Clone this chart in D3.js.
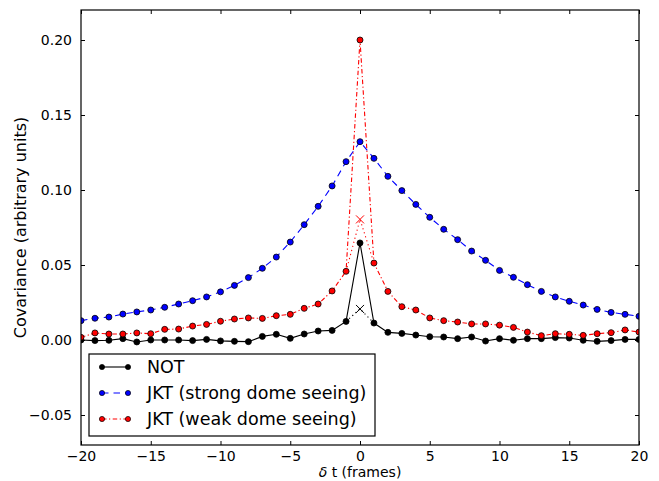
<!DOCTYPE html>
<html>
<head>
<meta charset="utf-8">
<script src="https://cdn.jsdelivr.net/npm/d3@7"></script>
<style>
  html, body { margin: 0; padding: 0; background: #fff; }
  svg { display: block; font-family: "DejaVu Sans", sans-serif; }
</style>
</head>
<body>
<svg id="chart" width="659" height="481"></svg>
<script>
// Lag in frames
const frames = [-20, -19, -18, -17, -16, -15, -14, -13, -12, -11, -10, -9, -8, -7, -6, -5, -4, -3, -2, -1,
  0, 1, 2, 3, 4, 5, 6, 7, 8, 9, 10, 11, 12, 13, 14, 15, 16, 17, 18, 19, 20];

// Covariance per lag
const notCov = [0.0000, -0.0004, -0.0002, 0.0009, -0.0013, 0.0000, 0.0000, 0.0000, -0.0004, 0.0004,
  -0.0006, -0.0009, -0.0011, 0.0024, 0.0038, 0.0011, 0.0040, 0.0060, 0.0064, 0.0124,
  0.0647,
  0.0113, 0.0051, 0.0044, 0.0033, 0.0022, 0.0020, 0.0009, 0.0020, -0.0007, 0.0009,
  -0.0002, 0.0009, 0.0009, 0.0016, 0.0013, -0.0002, -0.0009, -0.0004, 0.0004, 0.0004];

const jktStrong = [0.0129, 0.0145, 0.0153, 0.0173, 0.0187, 0.0200, 0.0218, 0.0240, 0.0262, 0.0287,
  0.0321, 0.0364, 0.0416, 0.0478, 0.0553, 0.0653, 0.0769, 0.0891, 0.1027, 0.1189,
  0.1322,
  0.1211, 0.1091, 0.0996, 0.0904, 0.0818, 0.0738, 0.0669, 0.0593, 0.0531, 0.0464,
  0.0418, 0.0369, 0.0324, 0.0287, 0.0258, 0.0233, 0.0204, 0.0184, 0.0171, 0.0158];

const jktWeak = [0.0018, 0.0047, 0.0040, 0.0040, 0.0047, 0.0042, 0.0071, 0.0073, 0.0093, 0.0104,
  0.0125, 0.0140, 0.0147, 0.0144, 0.0162, 0.0171, 0.0211, 0.0240, 0.0327, 0.0458,
  0.2000,
  0.0513, 0.0324, 0.0222, 0.0200, 0.0147, 0.0129, 0.0120, 0.0107, 0.0107, 0.0099,
  0.0084, 0.0053, 0.0029, 0.0042, 0.0038, 0.0031, 0.0042, 0.0049, 0.0067, 0.0053];

// Zero-lag values with the noise spike removed
const notZeroCorrected = 0.0207;
const weakZeroCorrected = 0.0804;

const xTicks = [-20, -15, -10, -5, 0, 5, 10, 15, 20];
const yTicks = [-0.05, 0.00, 0.05, 0.10, 0.15, 0.20];

const seriesNames = ["NOT", "JKT (strong dome seeing)", "JKT (weak dome seeing)"];

const svg = d3.select("#chart");
const plotLeft = 81, plotRight = 639, plotTop = 10, plotBottom = 445;

const x = d3.scaleLinear().domain([-20, 20]).range([plotLeft, plotRight]);
const y = d3.scaleLinear().domain([-0.07, 0.22]).range([plotBottom, plotTop]);

svg.append("defs").append("clipPath").attr("id", "plotclip")
  .append("rect").attr("x", plotLeft).attr("y", plotTop)
  .attr("width", plotRight - plotLeft).attr("height", plotBottom - plotTop);

const plot = svg.append("g").attr("clip-path", "url(#plotclip)");

const line = d3.line().x(d => x(d[0])).y(d => y(d[1]));

const styles = [
  { values: notCov, stroke: "#000000", fill: "#000000", dash: null, corrected: notZeroCorrected },
  { values: jktStrong, stroke: "#0000ff", fill: "#0000ff", dash: "6.5,5", corrected: null },
  { values: jktWeak, stroke: "#ff0000", fill: "#ff0000", dash: "4.5,2.5,1.2,2.5", corrected: weakZeroCorrected }
];

styles.forEach(s => {
  const pts = frames.map((f, i) => [f, s.values[i]]);
  const g = plot.append("g");
  g.append("path").datum(pts)
    .attr("d", line)
    .attr("fill", "none")
    .attr("stroke", s.stroke)
    .attr("stroke-width", 1.1)
    .attr("stroke-dasharray", s.dash);
  if (s.corrected !== null) {
    const i0 = frames.indexOf(0);
    const alt = [[-1, s.values[i0 - 1]], [0, s.corrected], [1, s.values[i0 + 1]]];
    g.append("path").datum(alt)
      .attr("d", line)
      .attr("fill", "none")
      .attr("stroke", s.stroke)
      .attr("stroke-width", 1.1)
      .attr("stroke-dasharray", "1.2,3");
    const cx = x(0), cy = y(s.corrected), r = 4;
    g.append("path")
      .attr("d", `M${cx - r},${cy - r}L${cx + r},${cy + r}M${cx - r},${cy + r}L${cx + r},${cy - r}`)
      .attr("stroke", s.stroke)
      .attr("stroke-width", 1);
  }
  g.selectAll("circle").data(pts).join("circle")
    .attr("cx", d => x(d[0]))
    .attr("cy", d => y(d[1]))
    .attr("r", 3)
    .attr("fill", s.fill)
    .attr("stroke", "#000")
    .attr("stroke-width", 0.8);
});

// Axes with inward ticks on all four sides
const tickLen = 4;
const axB = svg.append("g").attr("transform", `translate(0,${plotBottom})`)
  .call(d3.axisBottom(x).tickValues(xTicks).tickSizeInner(-tickLen).tickSizeOuter(0).tickPadding(6)
    .tickFormat(d => d3.format("d")(d).replace("-", "\u2212")));
const axT = svg.append("g").attr("transform", `translate(0,${plotTop})`)
  .call(d3.axisTop(x).tickValues(xTicks).tickSizeInner(-tickLen).tickSizeOuter(0).tickFormat(""));
const axL = svg.append("g").attr("transform", `translate(${plotLeft},0)`)
  .call(d3.axisLeft(y).tickValues(yTicks).tickSizeInner(-tickLen).tickSizeOuter(0).tickPadding(9)
    .tickFormat(d => d3.format(".2f")(d).replace("-", "\u2212")));
const axR = svg.append("g").attr("transform", `translate(${plotRight},0)`)
  .call(d3.axisRight(y).tickValues(yTicks).tickSizeInner(-tickLen).tickSizeOuter(0).tickFormat(""));

[axB, axT, axL, axR].forEach(a => {
  a.select(".domain").remove();
  a.selectAll(".tick line").attr("stroke", "#000").attr("stroke-width", 1);
  a.selectAll("text").attr("fill", "#000").style("font-size", "14px")
    .style("font-family", "'DejaVu Sans', sans-serif");
});

svg.append("rect")
  .attr("x", plotLeft).attr("y", plotTop)
  .attr("width", plotRight - plotLeft).attr("height", plotBottom - plotTop)
  .attr("fill", "none").attr("stroke", "#000").attr("stroke-width", 1.2);

// Axis titles
svg.append("text")
  .attr("x", (plotLeft + plotRight) / 2).attr("y", 477)
  .attr("text-anchor", "middle")
  .style("font-size", "14px")
  .html('<tspan font-style="italic">δ</tspan> t (frames)');

svg.append("text")
  .attr("transform", `translate(26,${(plotTop + plotBottom) / 2}) rotate(-90)`)
  .attr("text-anchor", "middle")
  .style("font-size", "16px")
  .text("Covariance (arbitrary units)");

// Legend
const lg = svg.append("g");
lg.append("rect").attr("x", 89).attr("y", 354).attr("width", 286).attr("height", 82)
  .attr("fill", "#fff").attr("stroke", "#000").attr("stroke-width", 1.2);
styles.forEach((s, i) => {
  const yy = 367 + i * 26;
  lg.append("line").attr("x1", 102).attr("x2", 128).attr("y1", yy).attr("y2", yy)
    .attr("stroke", s.stroke).attr("stroke-width", 1.1).attr("stroke-dasharray", s.dash);
  [102, 128].forEach(cx => lg.append("circle").attr("cx", cx).attr("cy", yy).attr("r", 2.6)
    .attr("fill", s.fill).attr("stroke", "#000").attr("stroke-width", 0.7));
  lg.append("text").attr("x", 147).attr("y", yy).attr("dy", "0.36em")
    .style("font-size", "17.5px").text(seriesNames[i]);
});
</script>
</body>
</html>
